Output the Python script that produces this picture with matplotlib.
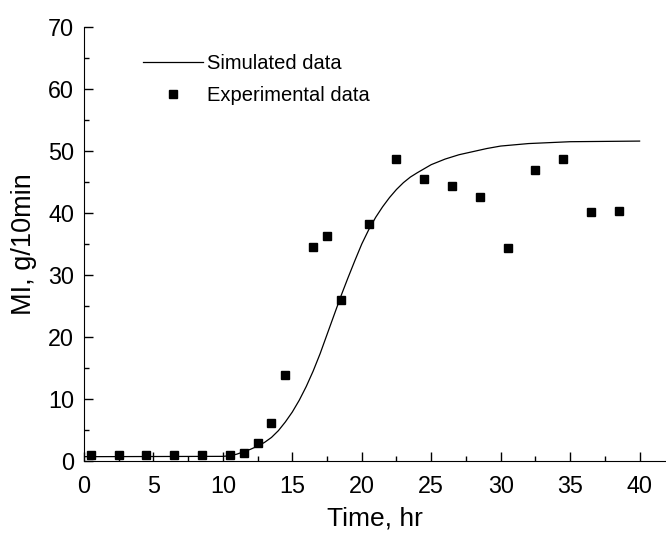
import matplotlib
matplotlib.use("Agg")
import matplotlib.pyplot as plt
from matplotlib.ticker import MultipleLocator

plt.rcParams['font.family'] = ['Liberation Sans', 'DejaVu Sans']

# simulated curve
sim_time = [0, 10, 10.5, 11, 11.5, 12, 12.5, 13, 13.5, 14, 14.5, 15, 15.5, 16,
            16.5, 17, 17.5, 18, 18.5, 19, 19.5, 20, 20.5, 21, 21.5, 22, 22.5,
            23, 23.5, 24, 25, 26, 27, 28, 29, 30, 32, 35, 40]
sim_mi = [0.7, 0.75, 0.85, 1.1, 1.5, 1.9, 2.4, 3.0, 3.8, 4.9, 6.3, 7.9, 9.8, 12.0,
          14.5, 17.3, 20.4, 23.5, 26.6, 29.5, 32.3, 35.0, 37.3, 39.3, 41.0, 42.5,
          43.8, 44.9, 45.8, 46.5, 47.8, 48.7, 49.4, 49.9, 50.4, 50.8, 51.2, 51.5,
          51.6]

# experimental points
exp_time = [0.5, 2.5, 4.5, 6.5, 8.5, 10.5, 11.5, 12.5, 13.5, 14.5, 16.5, 17.5,
            18.5, 20.5, 22.5, 24.5, 26.5, 28.5, 30.5, 32.5, 34.5, 36.5, 38.5]
exp_mi = [1.0, 1.0, 1.0, 1.0, 1.0, 1.0, 1.3, 2.9, 6.2, 13.9, 34.5, 36.3,
          25.9, 38.2, 48.7, 45.5, 44.4, 42.6, 34.3, 47.0, 48.7, 40.1, 40.4]

fig = plt.figure(figsize=(6.66, 5.38), dpi=100)
ax = fig.add_axes([0.126, 0.1431, 0.874, 0.8067])

ax.plot(sim_time, sim_mi, color='black', lw=0.9, label='Simulated data')
ax.plot(exp_time, exp_mi, 's', color='black', ms=6, label='Experimental data')

ax.set_xlim(0, 41.9)
ax.set_ylim(0, 70)
ax.xaxis.set_major_locator(MultipleLocator(5))
ax.xaxis.set_minor_locator(MultipleLocator(2.5))
ax.yaxis.set_major_locator(MultipleLocator(10))
ax.yaxis.set_minor_locator(MultipleLocator(5))
ax.tick_params(which='both', direction='in', labelsize=16.8, width=1)
ax.tick_params(which='major', length=6.5)
ax.tick_params(which='minor', length=3.5)
ax.tick_params(axis='x', which='major', pad=10)
ax.tick_params(axis='y', which='major', pad=7)
ax.spines['top'].set_visible(False)
ax.spines['right'].set_visible(False)

ax.set_xlabel('Time, hr', fontsize=19, labelpad=6)
ax.set_ylabel('MI, g/10min', fontsize=19.5, labelpad=8)

ax.legend(loc='upper left', bbox_to_anchor=(0.101, 0.938), frameon=False,
          fontsize=14.5, handlelength=3.0, handletextpad=0.2,
          labelspacing=0.65, borderpad=0, borderaxespad=0)

fig.savefig('out.png', dpi=100)
